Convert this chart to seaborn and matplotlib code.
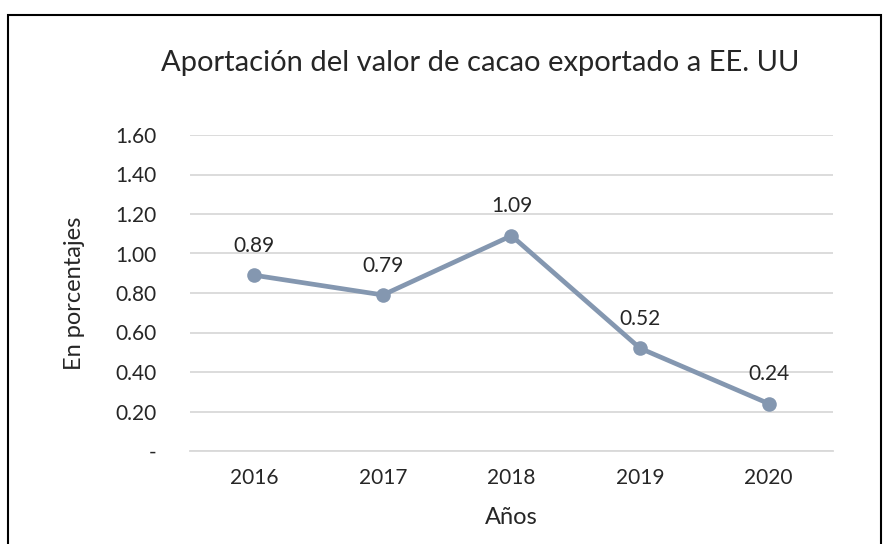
import matplotlib
matplotlib.use("Agg")
import matplotlib.pyplot as plt
import seaborn as sns
import pandas as pd
from matplotlib.patches import Rectangle

# Datos del gráfico
anios = ["2016", "2017", "2018", "2019", "2020"]
porcentajes = [0.89, 0.79, 1.09, 0.52, 0.24]
y_ticks = [0, 0.2, 0.4, 0.6, 0.8, 1.0, 1.2, 1.4, 1.6]
y_labels = ["-", "0.20", "0.40", "0.60", "0.80", "1.00", "1.20", "1.40", "1.60"]

sns.set_style("white")
plt.rcParams["font.family"] = ["Lato", "DejaVu Sans"]

df = pd.DataFrame({"Año": anios, "Valor": porcentajes})

fig = plt.figure(figsize=(8.87, 5.44), dpi=100)
ax = fig.add_axes([190 / 887, 93 / 544, 643 / 887, 316 / 544])

color = "#8497b0"
sns.lineplot(data=df, x="Año", y="Valor", ax=ax, color=color, linewidth=3.4,
             marker="o", markersize=10.5, markeredgewidth=0, sort=False)

# Etiquetas de datos
for i, v in enumerate(porcentajes):
    ax.annotate(f"{v:.2f}", (i, v), xytext=(0, 14), textcoords="offset points",
                ha="center", va="bottom", fontsize=15)

ax.set_xlim(-0.5, 4.5)
ax.set_ylim(0, 1.6)
ax.set_yticks(y_ticks)
ax.set_yticklabels(y_labels)
ax.grid(axis="y", color="#d9d9d9", linewidth=1.3)
ax.set_axisbelow(True)
for s in ["top", "right", "left"]:
    ax.spines[s].set_visible(False)
ax.spines["bottom"].set_color("#d9d9d9")
ax.spines["bottom"].set_linewidth(1.3)
ax.tick_params(axis="both", length=0, labelsize=15, pad=12)
ax.tick_params(axis="y", pad=24)

ax.set_xlabel("Años", fontsize=17, labelpad=14)
ax.set_ylabel("En porcentajes", fontsize=17, labelpad=22)

fig.text(480 / 887, 1 - 63 / 544, "Aportación del valor de cacao exportado a EE. UU",
         ha="center", va="center", fontsize=21)

# Marco del gráfico
fig.patches.append(Rectangle((8 / 887, -0.05), 873 / 887, 1.05 - 15 / 544,
                             transform=fig.transFigure, fill=False,
                             edgecolor="black", linewidth=1.5, clip_on=False))

fig.savefig("out.png", dpi=100)
